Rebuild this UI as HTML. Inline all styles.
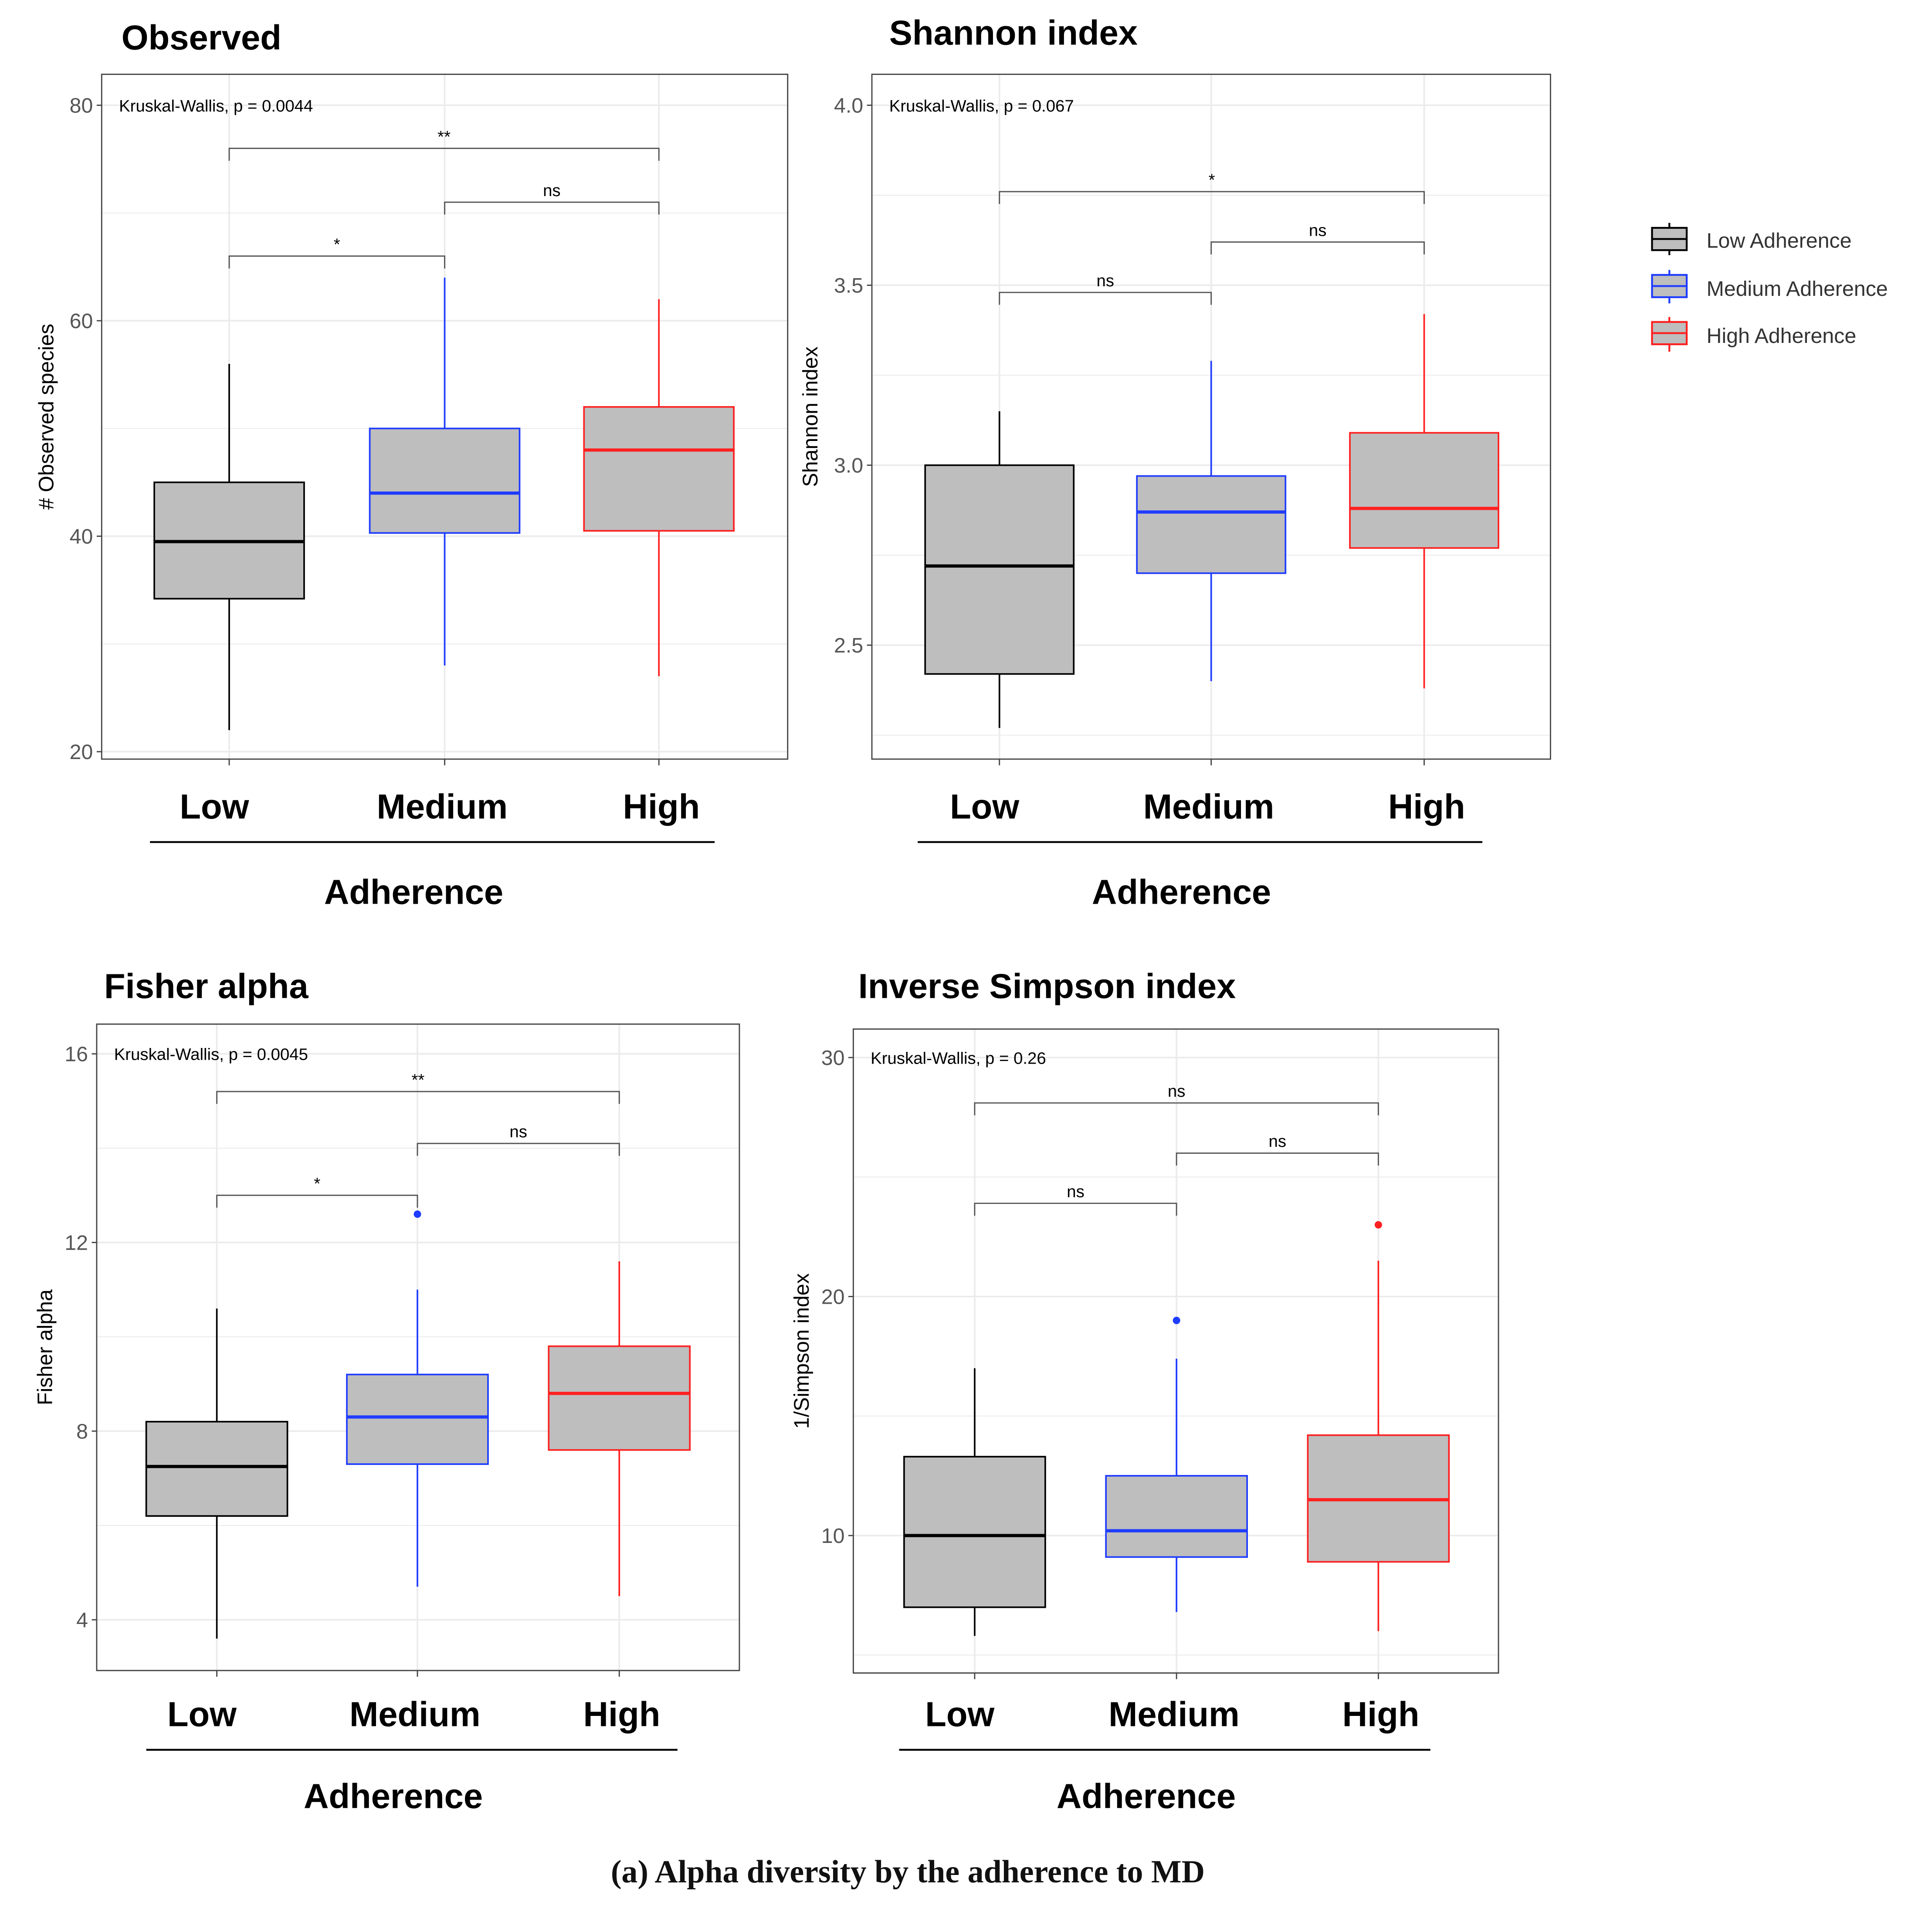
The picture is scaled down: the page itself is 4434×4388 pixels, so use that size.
<!DOCTYPE html>
<html><head><meta charset="utf-8"><style>
html,body{margin:0;padding:0;background:#fff}
svg{display:block}
</style></head><body>
<svg id="root" width="4434" height="4388" viewBox="0 0 1560 1544" xmlns="http://www.w3.org/2000/svg" font-family="Liberation Sans, sans-serif">
<rect width="1560" height="1544" fill="#fff"/>
<g id="panels"></g>
<g font-size="17" fill="#333">
  <g>
    <line x1="1348" y1="180" x2="1348" y2="206" stroke="#000" stroke-width="1.5"/>
    <rect x="1334" y="184" width="28" height="18" fill="#bebebe" stroke="#000" stroke-width="1.5"/>
    <line x1="1334" y1="193" x2="1362" y2="193" stroke="#000" stroke-width="1.5"/>
    <text x="1378" y="200">Low Adherence</text></g>
  <g>
    <line x1="1348" y1="218" x2="1348" y2="245" stroke="#1f3cff" stroke-width="1.5"/>
    <rect x="1334" y="222" width="28" height="18" fill="#bebebe" stroke="#1f3cff" stroke-width="1.5"/>
    <line x1="1334" y1="231" x2="1362" y2="231" stroke="#1f3cff" stroke-width="1.5"/>
    <text x="1378" y="239">Medium Adherence</text></g>
  <g>
    <line x1="1348" y1="256" x2="1348" y2="284" stroke="#ff2020" stroke-width="1.5"/>
    <rect x="1334" y="260" width="28" height="18" fill="#bebebe" stroke="#ff2020" stroke-width="1.5"/>
    <line x1="1334" y1="269" x2="1362" y2="269" stroke="#ff2020" stroke-width="1.5"/>
    <text x="1378" y="277">High Adherence</text></g>
</g>
<text x="733" y="1520" text-anchor="middle" font-family="Liberation Serif, serif" font-weight="bold" font-size="26" fill="#111">(a) Alpha diversity by the adherence to MD</text>
</svg>
<script>
const categories = ["Low","Medium","High"];
const colors = ["#000000","#1f3cff","#ff2020"];
// [whiskerLow, q1, median, q3, whiskerHigh]
const observedStats = [[22,34.2,39.5,45,56],[28,40.3,44,50,64],[27,40.5,48,52,62]];
const shannonStats = [[2.27,2.42,2.72,3.0,3.15],[2.4,2.70,2.87,2.97,3.29],[2.38,2.77,2.88,3.09,3.42]];
const fisherStats = [[3.6,6.2,7.25,8.2,10.6],[4.7,7.3,8.3,9.2,11.0],[4.5,7.6,8.8,9.8,11.6]];
const simpsonStats = [[5.8,7.0,10.0,13.3,17.0],[6.8,9.1,10.2,12.5,17.4],[6.0,8.9,11.5,14.2,21.5]];
const observedOutliers = [[],[],[]];
const shannonOutliers = [[],[],[]];
const fisherOutliers = [[],[12.6],[]];
const simpsonOutliers = [[],[19],[23]];
const observedTicks = [20,40,60,80];
const shannonTicks = [2.5,3.0,3.5,4.0];
const fisherTicks = [4,8,12,16];
const simpsonTicks = [10,20,30];
// brackets: [from, to, y-value, label]
const observedBrackets = [[0,1,66,"*"],[1,2,71,"ns"],[0,2,76,"**"]];
const shannonBrackets = [[0,1,3.48,"ns"],[1,2,3.62,"ns"],[0,2,3.76,"*"]];
const fisherBrackets = [[0,1,13,"*"],[1,2,14.1,"ns"],[0,2,15.2,"**"]];
const simpsonBrackets = [[0,1,23.9,"ns"],[1,2,26,"ns"],[0,2,28.1,"ns"]];

const NS="http://www.w3.org/2000/svg";
function mk(tag,attrs,parent,text){const e=document.createElementNS(NS,tag);for(const k in attrs)e.setAttribute(k,attrs[k]);if(text!==undefined)e.textContent=text;parent.appendChild(e);return e;}

const panels=[
 {key:"observed",title:"Observed",tx:98,ty:40,x0:82,x1:636,y0:60,y1:613,v0:20,p0:607,v1:80,p1:85,cx:[185,359,532],bw:121,ticks:observedTicks,fmt:v=>String(v),stats:observedStats,out:observedOutliers,br:observedBrackets,kw:"Kruskal-Wallis, p = 0.0044",kwy:90,ylab:"# Observed species",ylx:43,lowY:651,ulx0:121,ulx1:577,ady:720},
 {key:"shannon",title:"Shannon index",tx:718,ty:36,x0:704,x1:1252,y0:60,y1:613,v0:2.5,p0:521,v1:4.0,p1:85,cx:[807,978,1150],bw:120,ticks:shannonTicks,fmt:v=>v.toFixed(1),stats:shannonStats,out:shannonOutliers,br:shannonBrackets,kw:"Kruskal-Wallis, p = 0.067",kwy:90,ylab:"Shannon index",ylx:660,lowY:651,ulx0:741,ulx1:1197,ady:720},
 {key:"fisher",title:"Fisher alpha",tx:84,ty:806,x0:78,x1:597,y0:827,y1:1349,v0:4,p0:1308,v1:16,p1:851,cx:[175,337,500],bw:114,ticks:fisherTicks,fmt:v=>String(v),stats:fisherStats,out:fisherOutliers,br:fisherBrackets,kw:"Kruskal-Wallis, p = 0.0045",kwy:856,ylab:"Fisher alpha",ylx:42,lowY:1384,ulx0:118,ulx1:547,ady:1450},
 {key:"inverse-simpson",title:"Inverse Simpson index",tx:693,ty:806,x0:689,x1:1210,y0:831,y1:1351,v0:10,p0:1240,v1:30,p1:854,cx:[787,950,1113],bw:114,ticks:simpsonTicks,fmt:v=>String(v),stats:simpsonStats,out:simpsonOutliers,br:simpsonBrackets,kw:"Kruskal-Wallis, p = 0.26",kwy:859,ylab:"1/Simpson index",ylx:653,lowY:1384,ulx0:726,ulx1:1155,ady:1450}
];
const root=document.getElementById("panels");
panels.forEach(P=>{
 const g=mk("g",{},root);
 
 
 const y=v=>P.p0+(v-P.v0)*(P.p1-P.p0)/(P.v1-P.v0);
 const t=mk("text",{x:P.tx,y:P.ty,"font-size":28,"font-weight":"bold",fill:"#000"},g,P.title);
 
 
 const step=P.ticks[1]-P.ticks[0];
 for(let v=P.ticks[0]-step/2; v<=P.ticks[P.ticks.length-1]+step/2+1e-9; v+=step/2){
   const yy=y(v); if(yy<P.y0||yy>P.y1)continue;
   mk("line",{x1:P.x0,x2:P.x1,y1:yy,y2:yy,stroke:"#ebebeb","stroke-width":Math.abs((v-P.ticks[0])/step%1)<1e-6?1.3:0.7},g);
 }
 P.cx.forEach(x=>mk("line",{x1:x,x2:x,y1:P.y0,y2:P.y1,stroke:"#ebebeb","stroke-width":1.3},g));
 const frame=mk("rect",{x:P.x0,y:P.y0,width:P.x1-P.x0,height:P.y1-P.y0,fill:"none",stroke:"#444","stroke-width":1},g);
 
 
 P.ticks.forEach(v=>{const yy=y(v);
   mk("line",{x1:P.x0-4,x2:P.x0,y1:yy,y2:yy,stroke:"#444"},g);
   const tl=mk("text",{x:P.x0-7,y:yy+6,"text-anchor":"end","font-size":17,fill:"#555"},g,P.fmt(v));
   
   
 });
 P.cx.forEach(x=>mk("line",{x1:x,x2:x,y1:P.y1,y2:P.y1+5,stroke:"#444"},g));
 const yl=mk("text",{transform:`translate(${P.ylx},${(P.y0+P.y1)/2}) rotate(-90)`,"text-anchor":"middle","font-size":17,fill:"#000"},g,P.ylab);
 
 
 const kw=mk("text",{x:P.x0+14,y:P.kwy,"font-size":13.5,fill:"#000"},g,P.kw);
 
 
 P.stats.forEach((s,i)=>{
   const x=P.cx[i],c=colors[i],h=P.bw/2;
   const bg=mk("g",{},g);
   
   
   mk("line",{x1:x,x2:x,y1:y(s[0]),y2:y(s[1]),stroke:c,"stroke-width":1.3},bg);
   mk("line",{x1:x,x2:x,y1:y(s[3]),y2:y(s[4]),stroke:c,"stroke-width":1.3},bg);
   mk("rect",{x:x-h,y:y(s[3]),width:P.bw,height:y(s[1])-y(s[3]),fill:"#bebebe",stroke:c,"stroke-width":1.3},bg);
   mk("line",{x1:x-h,x2:x+h,y1:y(s[2]),y2:y(s[2]),stroke:c,"stroke-width":2.6},bg);
   P.out[i].forEach(o=>{
     const d=mk("circle",{cx:x,cy:y(o),r:3,fill:c},bg);
     
     
   });
 });
 P.br.forEach(b=>{
   const yy=y(b[2]),xa=P.cx[b[0]],xb=P.cx[b[1]];
   const bk=mk("g",{},g);
   
   
   mk("path",{d:`M${xa},${yy+10}V${yy}H${xb}V${yy+10}`,fill:"none",stroke:"#555","stroke-width":1},bk);
   mk("text",{x:(xa+xb)/2,y:yy-5,"text-anchor":"middle","font-size":13.5,fill:"#000"},bk,b[3]);
 });
 categories.forEach((c,i)=>{
   const cl=mk("text",{x:P.cx[i]-(i==0?12:(i==2?-2:2)),y:P.lowY+10,"text-anchor":"middle","font-size":28,"font-weight":"bold",fill:"#000"},g,c);
   
   
 });
 mk("line",{x1:P.ulx0,x2:P.ulx1,y1:P.lowY+29,y2:P.lowY+29,stroke:"#000","stroke-width":1.5},g);
 const ax=mk("text",{x:(P.ulx0+P.ulx1)/2-15,y:P.ady+10,"text-anchor":"middle","font-size":28,"font-weight":"bold",fill:"#000"},g,"Adherence");
 
 
});
</script>
</body></html>
